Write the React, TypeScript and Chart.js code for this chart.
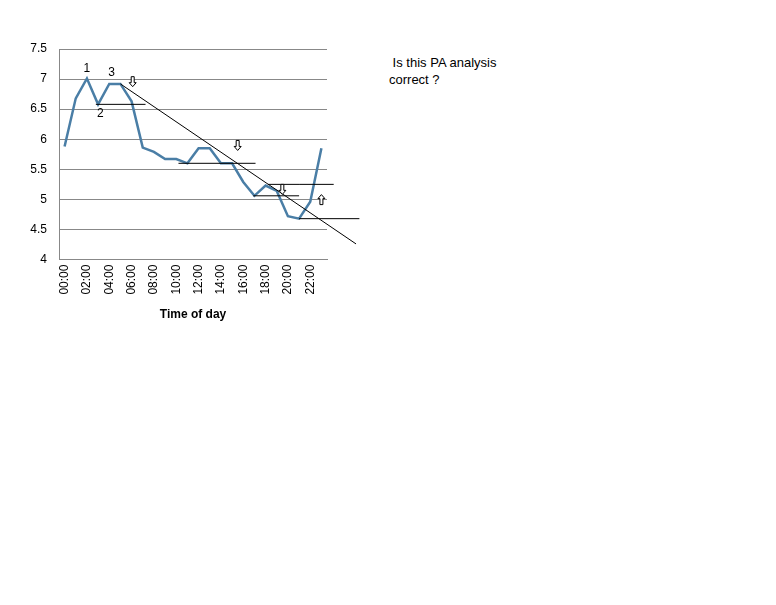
import React, { useEffect, useRef } from "react";
import { Chart, registerables } from "chart.js";
Chart.register(...registerables);

const hours = Array.from({ length: 24 }, (_, i) => (i < 10 ? "0" + i : "" + i) + ":00");
const values = [5.88, 6.68, 7.01, 6.58, 6.92, 6.92, 6.63, 5.86, 5.79, 5.67, 5.67, 5.6, 5.85, 5.85, 5.6, 5.6, 5.29, 5.06, 5.23, 5.14, 4.72, 4.68, 4.96, 5.85];
// annotation segments in data coords [x1, y1, x2, y2]
const segments = [
  [5, 6.92, 26.1, 4.26],
  [2.8, 6.58, 7.25, 6.58],
  [10.2, 5.6, 17.1, 5.6],
  [16.9, 5.06, 21.0, 5.06],
  [18.2, 5.25, 21.0, 5.25],
  [21.0, 5.25, 24.1, 5.25],
  [21.0, 4.68, 26.4, 4.68],
];
// arrows [x, y (top), direction]
const arrows = [
  [6.1, 7.04, "down"],
  [15.5, 5.98, "down"],
  [19.5, 5.25, "down"],
  [23.0, 5.08, "up"],
];
const labels = [
  ["1", 2, 7.08],
  ["3", 4.2, 7.0],
  ["2", 3.2, 6.32],
];

const annot = {
  id: "annot",
  afterDatasetsDraw(chart: any) {
    const { ctx, scales } = chart;
    const xs = scales.x, ys = scales.y;
    const px = (v: number) => xs.getPixelForValue(0) + v * (xs.getPixelForValue(1) - xs.getPixelForValue(0));
    const py = (v: number) => ys.getPixelForValue(v);
    ctx.save();
    ctx.strokeStyle = "#000";
    ctx.lineWidth = 1;
    for (const [a, b, c, d] of segments) {
      ctx.beginPath();
      ctx.moveTo(px(a), py(b));
      ctx.lineTo(px(c), py(d));
      ctx.stroke();
    }
    for (const [x, y, dir] of arrows as any) {
      const cx = px(x), top = py(y);
      ctx.beginPath();
      if (dir === "down") {
        ctx.moveTo(cx - 1.5, top); ctx.lineTo(cx + 1.5, top); ctx.lineTo(cx + 1.5, top + 6);
        ctx.lineTo(cx + 3.5, top + 6); ctx.lineTo(cx, top + 10); ctx.lineTo(cx - 3.5, top + 6);
        ctx.lineTo(cx - 1.5, top + 6); ctx.closePath();
      } else {
        ctx.moveTo(cx - 1.5, top + 10); ctx.lineTo(cx + 1.5, top + 10); ctx.lineTo(cx + 1.5, top + 4);
        ctx.lineTo(cx + 3.5, top + 4); ctx.lineTo(cx, top); ctx.lineTo(cx - 3.5, top + 4);
        ctx.lineTo(cx - 1.5, top + 4); ctx.closePath();
      }
      ctx.fillStyle = "#fff"; ctx.fill(); ctx.stroke();
    }
    ctx.fillStyle = "#000";
    ctx.font = "12px Arial, 'Liberation Sans'";
    ctx.textAlign = "center";
    ctx.textBaseline = "bottom";
    for (const [t, x, y] of labels as any) ctx.fillText(t, px(x), py(y));
    ctx.restore();
  },
};

export default function App() {
  const ref = useRef<HTMLCanvasElement>(null);
  useEffect(() => {
    const chart = new Chart(ref.current!, {
      type: "line",
      data: {
        labels: hours,
        datasets: [{ data: values, borderColor: "#4a7ea6", borderWidth: 2.5, pointRadius: 0, tension: 0 }],
      },
      options: {
        animation: false,
        responsive: false,
        layout: { padding: { top: 49, right: 43, left: 22, bottom: 4 } },
        plugins: { legend: { display: false }, tooltip: { enabled: false } },
        scales: {
          x: {
            offset: true,
            grid: { display: false, drawTicks: true, tickLength: 5, color: "#888" },
            border: { color: "#888" },
            ticks: {
              autoSkip: false, maxRotation: 90, minRotation: 90, color: "#000", padding: 0,
              font: { family: "Arial, 'Liberation Sans'", size: 12 },
              callback: (v: any, i: number) => (i % 2 === 0 ? hours[i] : ""),
            },
            title: { display: true, text: "Time of day", color: "#000", font: { family: "Arial, 'Liberation Sans'", size: 12, weight: "bold" }, padding: { top: 13, bottom: 0 } },
          },
          y: {
            min: 4, max: 7.5,
            afterFit: (s: any) => { s.width = 37; },
            grid: { color: "#888", drawTicks: false },
            border: { color: "#888" },
            ticks: { stepSize: 0.5, color: "#000", padding: 12, font: { family: "Arial, 'Liberation Sans'", size: 12 }, callback: (v: any) => String(v) },
          },
        },
      },
      plugins: [annot],
    });
    return () => chart.destroy();
  }, []);
  return (
    <div style={{ position: "absolute", left: 0, top: 0, width: 776, height: 605, background: "#fff" }}>
      <canvas ref={ref} width={370} height={326} style={{ position: "absolute", left: 0, top: 0 }} />
      <div style={{ position: "absolute", left: 389, top: 54, fontFamily: "Arial, 'Liberation Sans'", fontSize: 13, lineHeight: "17px", color: "#000" }}>
        <div>&nbsp;Is this PA analysis</div>
        <div>correct ?</div>
      </div>
    </div>
  );
}
